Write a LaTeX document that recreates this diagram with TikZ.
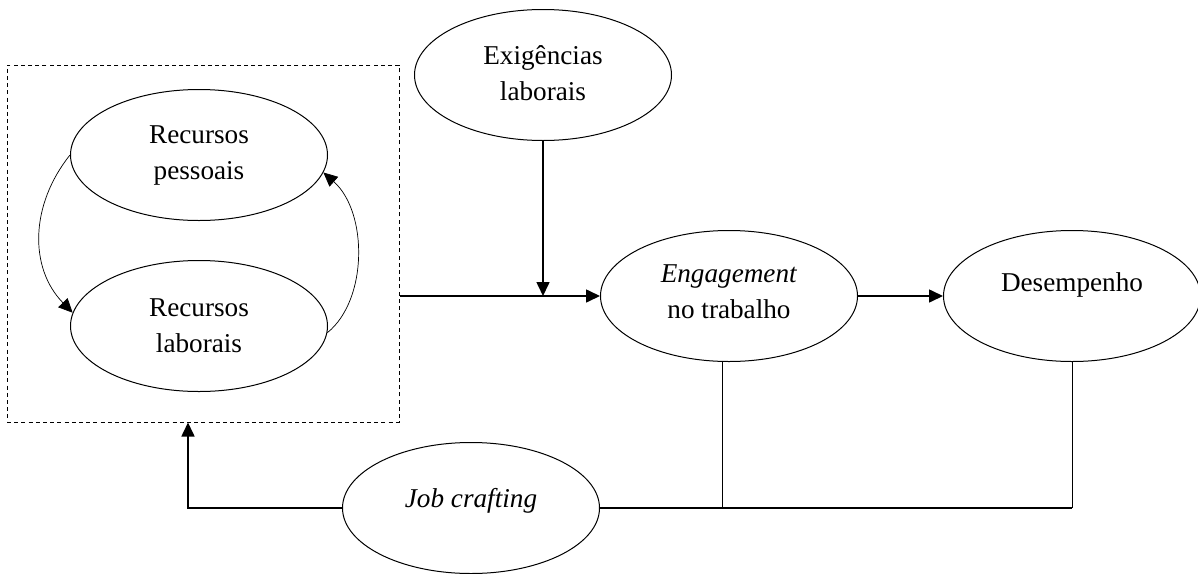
\documentclass[tikz,border=0pt]{standalone}
\usepackage{fontspec}
\setmainfont{Liberation Serif}
\usetikzlibrary{shapes.geometric,arrows.meta}

\tikzset{
  bubble/.style={ellipse, draw, line width=0.5pt, minimum width=128.5pt, minimum height=65.5pt,
    inner sep=0pt, align=center, font=\fontsize{13.6}{18}\selectfont},
  link/.style={line width=0.8pt, -{Triangle[length=7pt,width=6.5pt]}},
  curvearrow/.style={line width=0.35pt, -{Triangle[length=7pt,width=6.5pt]}},
  rail/.style={line width=0.8pt},
  post/.style={line width=0.5pt}
}

\begin{document}
\begin{tikzpicture}[x=0.5pt,y=-0.5pt]
\useasboundingbox (0,0) rectangle (1198,573);
% grupo de recursos
\node[draw, dash pattern=on 2pt off 1.6pt, line width=0.5pt, minimum width=196pt,
  minimum height=178.5pt, inner sep=0pt] (res) at (203,243.5) {};
\node[bubble] (rp) at (199,155) {Recursos\\pessoais};
\node[bubble] (rl) at (199,326) {Recursos\\laborais};
\draw[curvearrow] (rp.west) .. controls (30,205) and (29,268) .. (rl.174);
\draw[curvearrow] (rl.-3) .. controls (368,300) and (368,212) .. (rp.-8);
% modelo
\node[bubble, text depth=2pt] (ex) at (543,75) {Exigências\\laborais};
\node[bubble, text depth=4.5pt] (eng) at (729,296) {\textit{Engagement}\\no trabalho};
\node[bubble, text depth=14pt] (des) at (1072,296) {Desempenho};
\node[bubble, text depth=10.5pt] (jc) at (471,508) {\textit{Job crafting}};
\draw[link] (res.east |- eng.west) -- (eng.west);
\draw[link] (ex.south) -- (ex.south |- eng.west);
\draw[link] (eng.east) -- (des.west);
% retorno
\draw[post] ([xshift=-3.5pt]eng.south) -- ([xshift=-3.5pt]eng.south |- jc.east);
\draw[post] (des.south) -- (des.south |- jc.east);
\draw[rail] (jc.east) -- (des.south |- jc.east);
\draw[link] (jc.west) -| ([xshift=-7.5pt]res.south);
\end{tikzpicture}
\end{document}
